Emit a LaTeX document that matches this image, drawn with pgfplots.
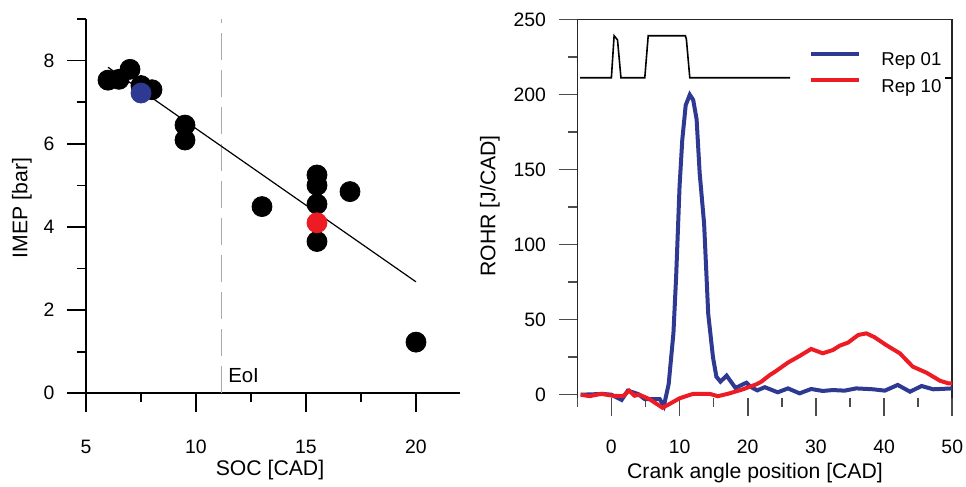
\documentclass[border=0pt]{standalone}
\usepackage{fontspec}
\setmainfont{Liberation Sans}
\usepackage{pgfplots}
\pgfplotsset{compat=1.18}

\definecolor{repblue}{RGB}{46,57,146}
\definecolor{repred}{RGB}{237,28,36}
\definecolor{eoigray}{RGB}{170,170,170}

\newcommand{\tickfont}{\fontsize{9.7}{11}\selectfont}
\newcommand{\labelfont}{\fontsize{10.6}{12}\selectfont}

\pgfplotsset{
  common/.style={
    scale only axis,
    clip=false,
    axis lines=left,
    tick align=outside,
    xtick align=outside, ytick align=outside,
    major tick length=9.3pt,
    minor tick length=4.5pt,
    /pgf/number format/assume math mode=true,
    tick label style={font=\tickfont},
  },
}

\begin{document}
\begin{tikzpicture}
\useasboundingbox (0,0) rectangle (483pt,243.5pt);

% ---------------- left: IMEP against start of combustion
\begin{axis}[
  common,
  at={(43pt,46.85pt)}, anchor=south west,
  width=187pt, height=187.15pt,
  xmin=5, xmax=22, ymin=0, ymax=9,
  axis line style={-, line width=0.8pt},
  tick style={black, line width=0.8pt},
  xticklabel style={yshift=-10.7pt},
  yticklabel style={xshift=-3pt},
  xtick={5,10,15,20}, minor xtick={7.5,12.5,17.5},
  ytick={0,2,4,6,8}, minor ytick={1,3,5,7,9},
]
% end of injection
\addplot[eoigray, line width=0.6pt, dash pattern=on 13.5pt off 5pt]
  coordinates {(11.15,0) (11.15,9)};
% linear fit
\addplot[black, line width=0.6pt] coordinates {(6,7.84) (20,2.68)};
% operating points
\addplot[only marks, mark=*, mark size=5pt, black] coordinates {
  (6,7.53) (6.5,7.55) (7,7.79) (7.5,7.40) (8,7.30)
  (9.5,6.45) (9.5,6.09) (13,4.49)
  (15.5,5.25) (15.5,5.00) (15.5,4.55) (15.5,3.65)
  (17,4.85) (20,1.23)
};
\addplot[only marks, mark=*, mark size=5pt, repblue] coordinates {(7.5,7.22)};
\addplot[only marks, mark=*, mark size=5pt, repred] coordinates {(15.5,4.10)};
\node[anchor=west, inner sep=0pt, font=\fontsize{10.2}{12}\selectfont]
  at (axis cs:11.45,0.43) {EoI};
\end{axis}

% ---------------- right: rate of heat release
\begin{axis}[
  common,
  at={(288.65pt,44.65pt)}, anchor=south west,
  width=187.5pt, height=189pt,
  xmin=-5, xmax=50, ymin=-2, ymax=250,
  axis line style={draw=none},
  tick style={black!70, line width=0.8pt},
  xticklabel style={yshift=-8.35pt},
  yticklabel style={xshift=-2.8pt},
  xtick={0,10,20,30,40,50}, minor xtick={-5,5,15,25,35,45},
  ytick={0,50,100,150,200,250}, minor ytick={25,75,125,175,225},
  legend cell align=left,
  legend image code/.code={\draw[#1, line width=2pt] (0pt,3.3pt) -- (24pt,3.3pt);},
  legend style={
    at={(axis description cs:0.6179,0.9154)}, anchor=north west,
    draw=none, fill=none, inner sep=0pt, row sep=4.9pt, column sep=10pt,
    font=\fontsize{9.3}{11}\selectfont,
    nodes={inner sep=0pt},
  },
]
\draw[black!85, line width=0.8pt]
  (rel axis cs:0,0) -- (rel axis cs:0,1) -- (rel axis cs:1,1) -- (rel axis cs:1,0);
% injection signal
\addplot[black, line width=0.8pt, forget plot] coordinates {
  (-4.6,211.3) (0.0,211.3) (0.4,239.3) (0.9,236.5) (1.4,211.3)
  (4.9,211.3) (5.4,239.3) (10.85,239.3) (11.0,237) (11.5,211.3)
  (26.2,211.3)
};
\addplot[black, line width=0.8pt, forget plot] coordinates {
  (48.9,211.3) (50,211.3)
};
\addplot[repblue, line width=2pt] coordinates {
  (-4.5,0) (-1.2,0.5) (0,0) (1.5,-3.5) (2.4,2.7) (3.9,0.5) (4.9,-3)
  (7.1,-3) (7.7,-7.5) (8.4,7) (9.1,41) (9.5,79) (10.0,139) (10.4,170)
  (10.9,193) (11.5,200) (12.0,196.5) (12.5,183.6) (12.95,147.6)
  (13.6,114) (14.2,54) (14.9,25) (15.4,12) (16.0,8.7) (16.9,12.7)
  (18.2,4.5) (19.8,8) (20.5,5) (21.4,2.9) (22.5,5) (24.4,1.6)
  (25.9,4.2) (27.6,0.9) (29.3,3.8) (31.0,2.5) (32.5,3.1) (34.2,2.7)
  (35.9,4.2) (38.4,3.6) (40.1,2.7) (42.0,6.5) (43.8,2) (45.5,5.8)
  (47.2,3.6) (50,4.2)
};
\addlegendentry{Rep 01}
\addplot[repred, line width=2pt] coordinates {
  (-4.5,0) (-3.2,-1) (-1.5,0.6) (0.2,-0.7) (1.7,-1) (2.6,2.7) (3.4,-0.7)
  (4.1,0) (5.6,-3) (7.5,-8.7) (8.6,-6) (10.0,-2.4) (12.0,0.6) (14.4,0.6)
  (15.6,-1) (17.1,0.6) (19.3,3.6) (21.3,7) (22.0,8.7) (23.2,13)
  (24.0,15.3) (25.9,21.4) (27.6,25.8) (29.3,30.5) (31.0,27.6)
  (32.5,29.8) (33.5,32.7) (34.7,34.7) (36.2,39.8) (37.4,40.9)
  (38.6,38.3) (40.3,33.1) (42.3,27.6) (44.2,18.7) (46.2,14.7)
  (48.2,9.3) (49.4,7.6) (50,7.6)
};
\addlegendentry{Rep 10}
\end{axis}

% axis titles
\node[rotate=90, font=\labelfont] at (11pt,139.5pt) {IMEP [bar]};
\node[font=\labelfont] at (135pt,8.25pt) {SOC [CAD]};
\node[rotate=90, font=\labelfont] at (245pt,140.5pt) {ROHR [J/CAD]};
\node[font=\labelfont] at (377.5pt,6.75pt) {Crank angle position [CAD]};
\end{tikzpicture}
\end{document}
